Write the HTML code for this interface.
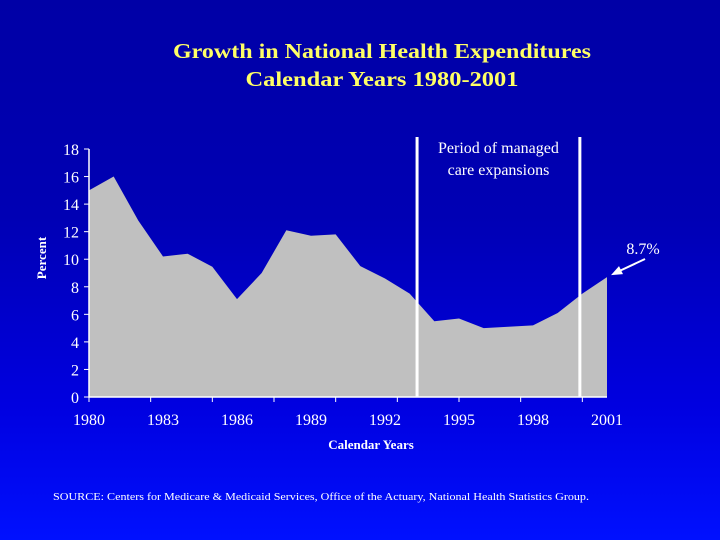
<!DOCTYPE html>
<html><head><meta charset="utf-8"><style>
html,body{margin:0;padding:0;}
body{width:720px;height:540px;overflow:hidden;background:linear-gradient(#0000a6 0%,#0000b4 40%,#0000e0 75%,#0010ff 100%);}
svg{display:block;font-family:"Liberation Serif",serif;}
</style></head><body>
<svg id="chart" width="720" height="540">
<text x="382" y="58" fill="#ffff66" font-size="21" font-weight="bold" text-anchor="middle" textLength="418" lengthAdjust="spacingAndGlyphs">Growth in National Health Expenditures</text>
<text x="382" y="86" fill="#ffff66" font-size="21" font-weight="bold" text-anchor="middle" textLength="273" lengthAdjust="spacingAndGlyphs">Calendar Years 1980-2001</text>
<g id="plot"></g>
<text x="46" y="258" fill="#fff" font-size="13" font-weight="bold" text-anchor="middle" transform="rotate(-90 46 258)">Percent</text>
<text x="371" y="449" fill="#fff" font-size="13" font-weight="bold" text-anchor="middle">Calendar Years</text>
<text x="53" y="500" fill="#fff" font-size="11" textLength="536" lengthAdjust="spacingAndGlyphs">SOURCE: Centers for Medicare &amp; Medicaid Services, Office of the Actuary, National Health Statistics Group.</text>
</svg>
<script>
const years=[1980,1981,1982,1983,1984,1985,1986,1987,1988,1989,1990,1991,1992,1993,1994,1995,1996,1997,1998,1999,2000,2001];
const growth=[15.0,16.0,12.8,10.2,10.4,9.45,7.1,9.0,12.1,11.7,11.8,9.5,8.6,7.5,5.5,5.7,5.0,5.1,5.2,6.1,7.5,8.7];
const yTicks=[0,2,4,6,8,10,12,14,16,18];
const xLabels=[1980,1983,1986,1989,1992,1995,1998,2001];
const periodBounds=[1993.3,1999.9];
const calloutText="8.7%";
const NS="http://www.w3.org/2000/svg";
const X0=89,X1=607,Y0=397,Y1=149;
const x=v=>X0+(v-1980)/(2001-1980)*(X1-X0);
const y=v=>Y0-(v/18)*(Y0-Y1);
const g=document.getElementById('plot');
function mk(t,a){const e=document.createElementNS(NS,t);for(const k in a)e.setAttribute(k,a[k]);g.appendChild(e);return e;}
let d=`M${x(years[0])},${y(0)}`;
years.forEach((yr,i)=>{d+=` L${x(yr)},${y(growth[i])}`;});
d+=` L${x(years[years.length-1])},${y(0)} Z`;
const area=mk('path',{d:d,fill:'#c0c0c0'});


const ax=mk('path',{d:`M${X0},${Y1} V${Y0} H${X1}`,stroke:'#fff','stroke-width':1.5,fill:'none'});


yTicks.forEach(v=>{
  const tk=mk('line',{x1:X0-5,x2:X0,y1:y(v),y2:y(v),stroke:'#fff','stroke-width':1});
  
  
  const t=mk('text',{x:X0-10,y:y(v)+6,fill:'#fff','font-size':16,'text-anchor':'end'});
  t.textContent=v;
  
  
});
for(let k=0;k<=8;k++){
  const xv=1980+k*2.5;
  if(xv>2001)break;
  const tk=mk('line',{x1:x(xv),x2:x(xv),y1:Y0,y2:Y0+5,stroke:'#fff','stroke-width':1});
  
  
}
xLabels.forEach(v=>{
  const t=mk('text',{x:x(v),y:425,fill:'#fff','font-size':16,'text-anchor':'middle'});
  t.textContent=v;
  
  
});
periodBounds.forEach(v=>{
  const l=mk('line',{x1:x(v),x2:x(v),y1:137,y2:Y0,stroke:'#fff','stroke-width':3});
  
  
});
const cx=(x(periodBounds[0])+x(periodBounds[1]))/2;
const p1=mk('text',{x:cx,y:153,fill:'#fff','font-size':16,'text-anchor':'middle'});
p1.textContent='Period of managed';


const p2=mk('text',{x:cx,y:175,fill:'#fff','font-size':16,'text-anchor':'middle'});
p2.textContent='care expansions';


const lastX=x(years[years.length-1]),lastY=y(growth[growth.length-1]);
const c=mk('text',{x:643,y:254,fill:'#fff','font-size':16,'text-anchor':'middle'});
c.textContent=calloutText;


const ar=mk('line',{x1:645,y1:259,x2:lastX+10,y2:lastY-5,stroke:'#fff','stroke-width':2});


const ah=mk('polygon',{points:`${lastX+4},${lastY-2} ${lastX+12},${lastY-11} ${lastX+16},${lastY-3}`,fill:'#fff'});


</script>
</body></html>
